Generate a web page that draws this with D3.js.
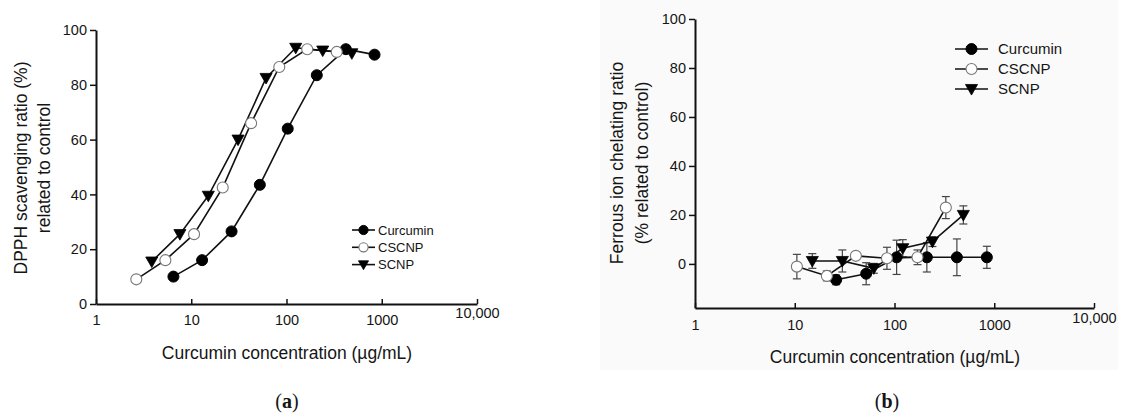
<!DOCTYPE html>
<html>
<head>
<meta charset="utf-8">
<script src="https://cdn.jsdelivr.net/npm/d3@7"></script>
<style>
  html, body { margin: 0; padding: 0; background: #fff; }
  svg { display: block; }
  text { font-family: "Liberation Sans", Arial, Helvetica, sans-serif; fill: #151515; }
</style>
</head>
<body>
<svg id="chart" width="1123" height="414"></svg>
<script>
// ---------- data ----------
const seriesNames = ["Curcumin", "CSCNP", "SCNP"];

const xTickValues = [1, 10, 100, 1000, 10000];
const xTickLabels = ["1", "10", "100", "1000", "10,000"];
const yTickValues = [0, 20, 40, 60, 80, 100];

// (a) DPPH scavenging
const dpphCurcuminX = [6.5, 13, 26.5, 52.5, 103, 208, 420, 840];
const dpphCurcuminY = [10, 16, 26.5, 43.5, 64, 83.5, 93, 91];
const dpphCSCNPX = [2.65, 5.35, 10.7, 21.4, 42.5, 84, 165, 337];
const dpphCSCNPY = [9, 16, 25.5, 42.5, 66, 86.5, 93, 92];
const dpphSCNPX = [3.85, 7.6, 15.1, 31, 61, 125, 240, 485];
const dpphSCNPY = [15.5, 25.5, 39.5, 60, 82.5, 93.5, 92.5, 91.5];

// (b) Ferrous ion chelating
const fcCurcuminX = [26, 52, 105, 211, 422, 843];
const fcCurcuminY = [-6.5, -4, 2.7, 2.7, 2.7, 2.7];
const fcCurcuminErr = [2, 4.5, 7, 6, 7.5, 4.5];
const fcCSCNPX = [10.5, 21, 41, 84, 170, 327];
const fcCSCNPY = [-1.1, -4.9, 3.3, 2.3, 2.7, 23];
const fcCSCNPErr = [5, 2, 1, 4.5, 3, 4.5];
const fcSCNPX = [15, 30, 62, 121, 240, 490];
const fcSCNPY = [1.2, 1.2, -1.8, 6.4, 9.1, 20];
const fcSCNPErr = [3, 4.5, 2, 3.5, 2, 3.7];

// ---------- helpers ----------
const svg = d3.select("#chart");
const zip = (xs, ys, es) => xs.map((x, i) => ({ x, y: ys[i], e: es ? es[i] : 0 }));

function triPath(s) {
  // down-pointing triangle
  return `M${-s},${-s * 0.75}L${s},${-s * 0.75}L0,${s}Z`;
}

function drawMarker(g, kind, cx, cy, r) {
  if (kind === 0) {
    g.append("circle").attr("cx", cx).attr("cy", cy).attr("r", r)
      .attr("fill", "#000").attr("stroke", "#000").attr("stroke-width", 1);
  } else if (kind === 1) {
    g.append("circle").attr("cx", cx).attr("cy", cy).attr("r", r)
      .attr("fill", "#fff").attr("stroke", "#777").attr("stroke-width", 1.1);
  } else {
    g.append("path").attr("d", triPath(r * 1.1))
      .attr("transform", `translate(${cx},${cy})`)
      .attr("fill", "#000").attr("stroke", "#000").attr("stroke-width", 0.8);
  }
}

function panel(cfg) {
  const g = svg.append("g");
  const x = d3.scaleLog().domain([1, 10000]).range(cfg.xRange);
  const y = d3.scaleLinear().domain(cfg.yDomain).range(cfg.yRange);

  if (cfg.bg) {
    g.append("rect").attr("x", cfg.bg[0]).attr("y", cfg.bg[1])
      .attr("width", cfg.bg[2]).attr("height", cfg.bg[3]).attr("fill", "#fafafa");
  }

  // x axis
  const xa = g.append("g").attr("transform", `translate(0,${cfg.yRange[0]})`)
    .call(d3.axisBottom(x).tickValues(xTickValues).tickSize(-5).tickSizeOuter(0)
      .tickPadding(cfg.xPad).tickFormat((d, i) => xTickLabels[i]));
  xa.select(".domain").attr("stroke", "#111").attr("stroke-width", 2);
  xa.selectAll(".tick line").attr("stroke", "#111").attr("stroke-width", 1.5);
  xa.selectAll(".tick text").attr("font-size", 14.5).attr("fill", "#151515")
    .attr("font-family", "Liberation Sans, Arial, sans-serif");
  xa.selectAll(".tick").filter(d => d === 10000).select("text").attr("dy", "0.2em");

  // y axis
  const ya = g.append("g").attr("transform", `translate(${cfg.xRange[0]},0)`)
    .call(d3.axisLeft(y).tickValues(yTickValues).tickSize(6).tickSizeOuter(0).tickPadding(3));
  ya.select(".domain").attr("stroke", "#111").attr("stroke-width", 2);
  ya.selectAll(".tick line").attr("stroke", "#111").attr("stroke-width", 1.5);
  ya.selectAll(".tick text").attr("font-size", 14.5).attr("fill", "#151515")
    .attr("font-family", "Liberation Sans, Arial, sans-serif");

  // axis titles
  g.append("text").attr("x", cfg.xTitle[0]).attr("y", cfg.xTitle[1])
    .attr("text-anchor", "middle").attr("font-size", 17.5)
    .text("Curcumin concentration (\u00b5g/mL)");
  cfg.yTitle.forEach((t, i) => {
    g.append("text")
      .attr("transform", `translate(${cfg.yTitlePos[i]},${cfg.yTitleCy}) rotate(-90)`)
      .attr("text-anchor", "middle").attr("dy", "0.35em").attr("font-size", 17.5)
      .text(t);
  });

  // panel label
  const lab = g.append("text").attr("x", cfg.label[0]).attr("y", cfg.label[1])
    .attr("text-anchor", "middle").attr("font-size", 20)
    .style("font-family", "Liberation Serif, 'Times New Roman', serif");
  lab.append("tspan").text("(");
  lab.append("tspan").attr("font-weight", "bold").text(cfg.labelText);
  lab.append("tspan").text(")");

  const line = d3.line().x(d => x(d.x)).y(d => y(d.y));

  // error bars
  cfg.series.forEach(s => {
    if (!s.some(d => d.e)) return;
    s.forEach(d => {
      const cx = x(d.x), y1 = y(d.y + d.e), y2 = y(d.y - d.e);
      g.append("line").attr("x1", cx).attr("x2", cx).attr("y1", y1).attr("y2", y2)
        .attr("stroke", "#444").attr("stroke-width", 1.2);
      [y1, y2].forEach(yy => g.append("line").attr("x1", cx - 4).attr("x2", cx + 4)
        .attr("y1", yy).attr("y2", yy).attr("stroke", "#444").attr("stroke-width", 1.2));
    });
  });

  // lines
  cfg.series.forEach(s => {
    g.append("path").datum(s).attr("d", line).attr("fill", "none")
      .attr("stroke", "#111").attr("stroke-width", 1.6);
  });
  // markers
  cfg.series.forEach((s, k) => {
    s.forEach(d => drawMarker(g, k, x(d.x), y(d.y), cfg.mr));
  });

  // legend
  const L = cfg.legend;
  seriesNames.forEach((name, k) => {
    const ly = L.y0 + k * L.dy;
    g.append("line").attr("x1", L.x1).attr("x2", L.x2).attr("y1", ly).attr("y2", ly)
      .attr("stroke", "#111").attr("stroke-width", 1.6);
    drawMarker(g, k, (L.x1 + L.x2) / 2, ly, L.r);
    g.append("text").attr("x", L.tx).attr("y", ly).attr("dy", "0.35em")
      .attr("font-size", L.fs).text(name);
  });
}

// (a)
panel({
  xRange: [96, 477],
  yDomain: [0, 100],
  yRange: [304, 30],
  xPad: 11,
  xTitle: [287, 359],
  yTitle: ["DPPH scavenging ratio (%)", "related to control"],
  yTitlePos: [21, 44],
  yTitleCy: 168,
  label: [287, 408],
  labelText: "a",
  mr: 5.5,
  series: [
    zip(dpphCurcuminX, dpphCurcuminY),
    zip(dpphCSCNPX, dpphCSCNPY),
    zip(dpphSCNPX, dpphSCNPY)
  ],
  legend: { x1: 352, x2: 375, tx: 378, y0: 230, dy: 17.3, r: 4.6, fs: 13 }
});

// (b)
panel({
  bg: [600, 0, 518, 370],
  xRange: [695, 1094],
  yDomain: [-18, 100],
  yRange: [308, 19],
  xPad: 12,
  xTitle: [895, 363],
  yTitle: ["Ferrous ion chelating ratio", "(% related to control)"],
  yTitlePos: [617, 642],
  yTitleCy: 163,
  label: [887, 408],
  labelText: "b",
  mr: 5.5,
  series: [
    zip(fcCurcuminX, fcCurcuminY, fcCurcuminErr),
    zip(fcCSCNPX, fcCSCNPY, fcCSCNPErr),
    zip(fcSCNPX, fcSCNPY, fcSCNPErr)
  ],
  legend: { x1: 955, x2: 988, tx: 998, y0: 49, dy: 20, r: 5.5, fs: 15 }
});
</script>
</body>
</html>
